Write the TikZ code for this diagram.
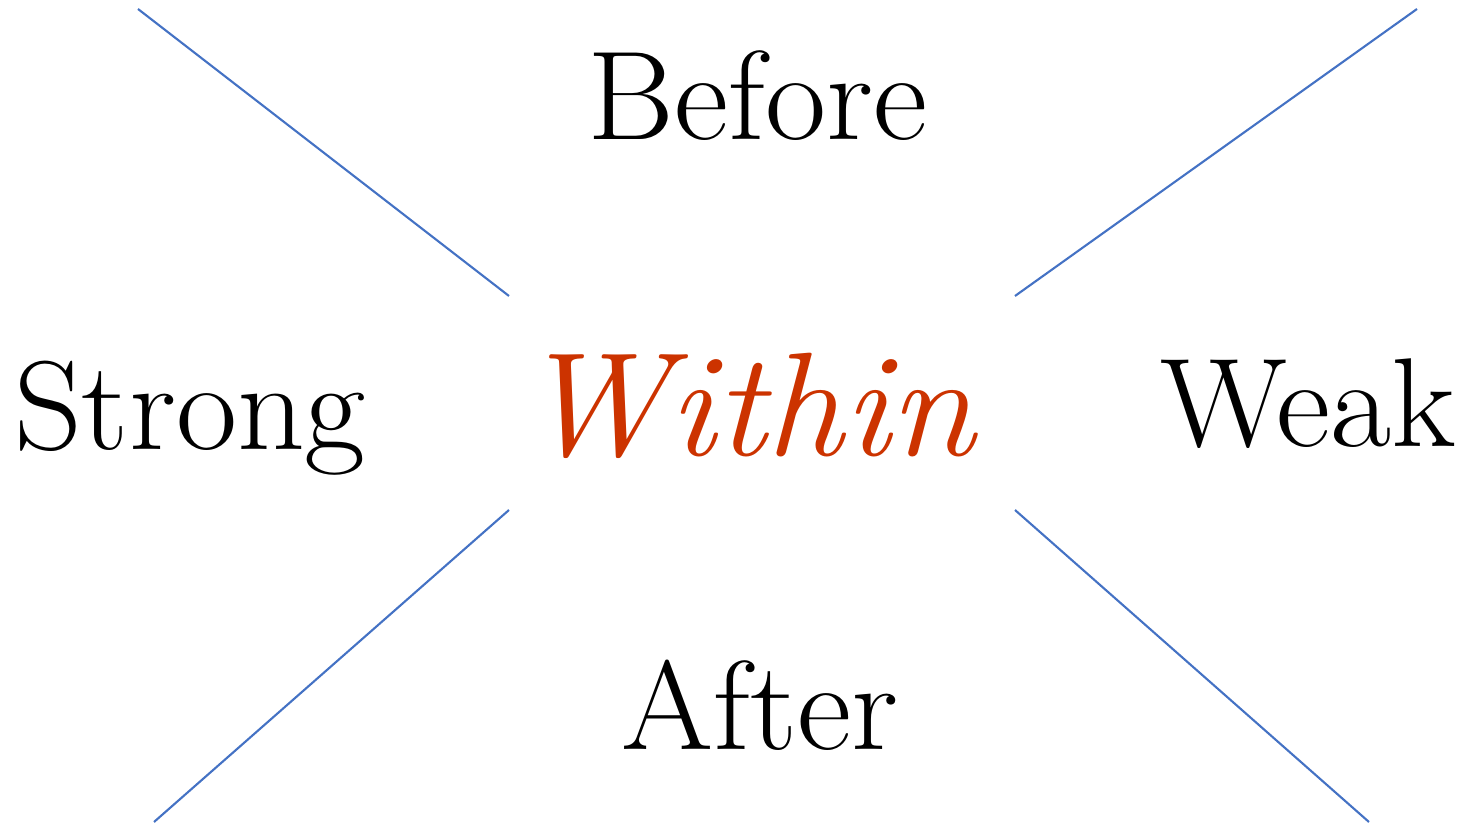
\documentclass[tikz,border=0pt]{standalone}
\usepackage{tikz}
\usetikzlibrary{positioning}

\definecolor{crossblue}{RGB}{68,114,196}
\definecolor{withinred}{RGB}{204,51,0}

\tikzset{
  word/.style={font=\fontsize{36}{40}\selectfont,anchor=base,inner sep=0pt,xscale=1.05},
  cross/.style={draw=crossblue,line width=0.6pt}
}

\begin{document}
\begin{tikzpicture}
  \useasboundingbox (0,0) rectangle (14.68,8.25);

  \node[word] (before) at (7.575,6.85) {Before};
  \node[word] (strong) at (1.90,3.75) {Strong};
  \node[word,text=withinred,font=\fontsize{42}{46}\selectfont\itshape] (within) at (7.46,3.69) {Within};
  \node[word] (weak) at (13.08,3.78) {Weak};
  \node[word] (after) at (7.60,0.75) {After};

  \coordinate (tlout) at (1.38,8.16);
  \coordinate (tlin) at (5.09,5.29);
  \coordinate (trout) at (14.17,8.16);
  \coordinate (trin) at (10.15,5.29);
  \coordinate (blin) at (5.09,3.15);
  \coordinate (blout) at (1.54,0.03);
  \coordinate (brin) at (10.15,3.15);
  \coordinate (brout) at (13.69,0.03);

  \draw[cross] (tlout) -- (tlin);
  \draw[cross] (trout) -- (trin);
  \draw[cross] (blin) -- (blout);
  \draw[cross] (brin) -- (brout);
\end{tikzpicture}
\end{document}
